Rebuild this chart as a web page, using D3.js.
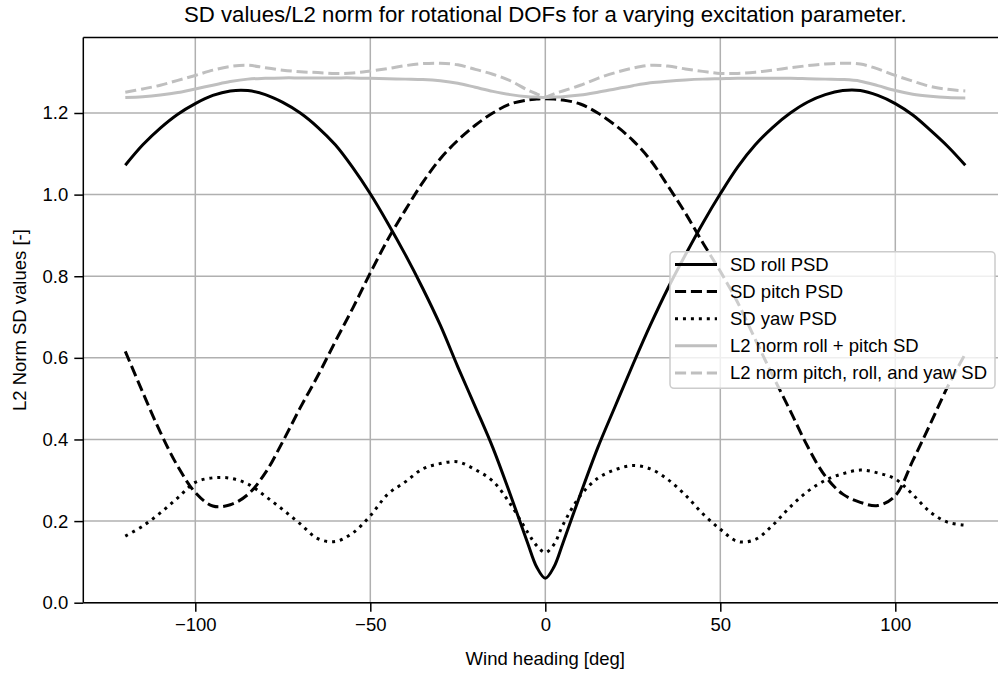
<!DOCTYPE html>
<html>
<head>
<meta charset="utf-8">
<script src="https://cdn.jsdelivr.net/npm/d3@7"></script>
<style>
  body { margin: 0; background: white; }
  svg { display: block; font-family: "Liberation Sans", Arial, sans-serif; }
</style>
</head>
<body>
<div id="chart"></div>
<script>
// wind heading [deg]
var headings = [-120,-115,-110,-105,-100,-95,-90,-85,-80,-75,-70,-65,-60,-55,-50,-45,-40,-35,-30,-25,-20,-15,-10,-5,-2.5,
  0,2.5,5,10,15,20,25,30,35,40,45,50,55,60,65,70,75,80,85,90,95,100,105,110,115,120];

var sdRoll = [1.072,1.122,1.163,1.197,1.223,1.243,1.254,1.255,1.245,1.226,1.200,1.165,1.122,1.066,1.002,0.930,0.853,0.770,0.680,0.578,0.480,0.380,0.265,0.145,0.088,
  0.060,0.088,0.145,0.265,0.380,0.482,0.583,0.680,0.770,0.852,0.930,1.002,1.068,1.122,1.165,1.200,1.227,1.245,1.255,1.255,1.243,1.223,1.195,1.158,1.118,1.072];

var sdPitch = [0.616,0.515,0.418,0.334,0.270,0.237,0.240,0.265,0.318,0.395,0.478,0.556,0.640,0.722,0.808,0.890,0.962,1.030,1.088,1.133,1.170,1.200,1.222,1.232,1.234,
  1.235,1.234,1.232,1.222,1.200,1.170,1.133,1.085,1.022,0.955,0.882,0.812,0.735,0.645,0.556,0.470,0.382,0.310,0.266,0.246,0.238,0.262,0.348,0.438,0.530,0.610];

var sdYaw = [0.163,0.188,0.220,0.257,0.295,0.306,0.305,0.291,0.261,0.228,0.193,0.157,0.150,0.171,0.213,0.266,0.296,0.328,0.341,0.345,0.326,0.298,0.242,0.172,0.140,
  0.123,0.143,0.190,0.262,0.305,0.326,0.336,0.328,0.302,0.264,0.218,0.180,0.150,0.155,0.190,0.235,0.273,0.300,0.316,0.325,0.318,0.303,0.265,0.222,0.197,0.190];

var l2RollPitch = [1.238,1.240,1.244,1.250,1.259,1.268,1.277,1.283,1.285,1.286,1.286,1.286,1.286,1.286,1.285,1.284,1.283,1.282,1.279,1.273,1.263,1.253,1.245,1.240,1.239,
  1.238,1.239,1.240,1.244,1.251,1.259,1.267,1.274,1.278,1.281,1.283,1.284,1.285,1.285,1.285,1.285,1.284,1.283,1.282,1.278,1.267,1.255,1.246,1.241,1.238,1.237];

var l2All = [1.251,1.259,1.268,1.280,1.292,1.305,1.314,1.317,1.311,1.305,1.301,1.299,1.297,1.298,1.303,1.309,1.316,1.321,1.322,1.318,1.307,1.295,1.279,1.256,1.247,
  1.239,1.247,1.254,1.268,1.285,1.299,1.310,1.317,1.315,1.308,1.302,1.297,1.297,1.300,1.305,1.311,1.316,1.320,1.322,1.320,1.308,1.292,1.278,1.265,1.258,1.254];

var seriesLabels = ["SD roll PSD", "SD pitch PSD", "SD yaw PSD", "L2 norm roll + pitch SD", "L2 norm pitch, roll, and yaw SD"];
var xTicks = [-100, -50, 0, 50, 100];
var yTicks = [0.0, 0.2, 0.4, 0.6, 0.8, 1.0, 1.2];

var W = 998, H = 674;
var mLeft = 83.3, mTop = 37.5, mRight = 1007.3, mBottom = 602.7;
var fontSize = 18.5;
var titleSize = 22.2;

var svg = d3.select("#chart").append("svg")
  .attr("width", W).attr("height", H);

var x = d3.scaleLinear().domain([-132, 132]).range([mLeft, mRight]);
var y = d3.scaleLinear().domain([0, 1.385]).range([mBottom, mTop]);

// grid
var grid = svg.append("g");
xTicks.forEach(function(t){
  grid.append("line").attr("x1", x(t)).attr("x2", x(t)).attr("y1", mTop).attr("y2", mBottom)
    .attr("stroke", "#b0b0b0").attr("stroke-width", 1.5);
});
yTicks.forEach(function(t){
  grid.append("line").attr("x1", mLeft).attr("x2", mRight).attr("y1", y(t)).attr("y2", y(t))
    .attr("stroke", "#b0b0b0").attr("stroke-width", 1.5);
});

var styles = [
  {color: "#000000", dash: null},
  {color: "#000000", dash: "11.1,4.8"},
  {color: "#000000", dash: "3,4.95"},
  {color: "#bfbfbf", dash: null},
  {color: "#bfbfbf", dash: "11.1,4.8"}
];
var allSeries = [sdRoll, sdPitch, sdYaw, l2RollPitch, l2All];

var line = d3.line()
  .x(function(d){ return x(d[0]); })
  .y(function(d){ return y(d[1]); })
  .curve(d3.curveCatmullRom.alpha(0.5));

allSeries.forEach(function(vals, i){
  var pts = headings.map(function(h, j){ return [h, vals[j]]; });
  svg.append("path").attr("d", line(pts))
    .attr("fill", "none")
    .attr("stroke", styles[i].color)
    .attr("stroke-width", 3)
    .attr("stroke-dasharray", styles[i].dash);
});

// axes
var fmt = function(d){ return d < 0 ? "\u2212" + Math.abs(d) : "" + d; };
var xAxis = svg.append("g").attr("transform", "translate(0," + mBottom + ")")
  .call(d3.axisBottom(x).tickValues(xTicks).tickFormat(fmt).tickSize(9).tickPadding(6));
var yAxis = svg.append("g").attr("transform", "translate(" + mLeft + ",0)")
  .call(d3.axisLeft(y).tickValues(yTicks).tickFormat(d3.format(".1f")).tickSize(9).tickPadding(6));

[xAxis, yAxis].forEach(function(a){
  a.select(".domain").remove();
  a.selectAll(".tick line").attr("stroke", "#000").attr("stroke-width", 1.5);
  a.selectAll(".tick text").attr("fill", "#000").attr("font-size", fontSize)
    .attr("font-family", "Liberation Sans, Arial, sans-serif");
});

// spines
svg.append("line").attr("x1", mLeft).attr("x2", mLeft).attr("y1", mTop).attr("y2", mBottom)
  .attr("stroke", "#000").attr("stroke-width", 1.5);
svg.append("line").attr("x1", mLeft).attr("x2", mRight).attr("y1", mBottom).attr("y2", mBottom)
  .attr("stroke", "#000").attr("stroke-width", 1.5);
svg.append("line").attr("x1", mLeft).attr("x2", mRight).attr("y1", mTop).attr("y2", mTop)
  .attr("stroke", "#000").attr("stroke-width", 1.5);
svg.append("line").attr("x1", mRight).attr("x2", mRight).attr("y1", mTop).attr("y2", mBottom)
  .attr("stroke", "#000").attr("stroke-width", 1.5);

// labels
svg.append("text").attr("x", (mLeft + mRight) / 2).attr("y", 22)
  .attr("text-anchor", "middle").attr("font-size", titleSize)
  .text("SD values/L2 norm for rotational DOFs for a varying excitation parameter.");
svg.append("text").attr("x", (mLeft + mRight) / 2).attr("y", 665)
  .attr("text-anchor", "middle").attr("font-size", fontSize)
  .text("Wind heading [deg]");
svg.append("text").attr("transform", "translate(25.5," + ((mTop + mBottom) / 2) + ") rotate(-90)")
  .attr("text-anchor", "middle").attr("font-size", fontSize)
  .text("L2 Norm SD values [-]");

// legend
var leg = svg.append("g");
leg.append("rect").attr("x", 670).attr("y", 251.7).attr("width", 325).attr("height", 136.6)
  .attr("rx", 4).attr("fill", "white").attr("fill-opacity", 0.8)
  .attr("stroke", "#cccccc").attr("stroke-width", 1.5);
seriesLabels.forEach(function(lab, i){
  var cy = 264.5 + i * 27.1;
  leg.append("line").attr("x1", 675).attr("x2", 717).attr("y1", cy).attr("y2", cy)
    .attr("stroke", styles[i].color).attr("stroke-width", 3)
    .attr("stroke-dasharray", styles[i].dash);
  leg.append("text").attr("x", 730).attr("y", cy).attr("dy", "0.35em")
    .attr("font-size", fontSize).text(lab);
});
</script>
</body>
</html>
